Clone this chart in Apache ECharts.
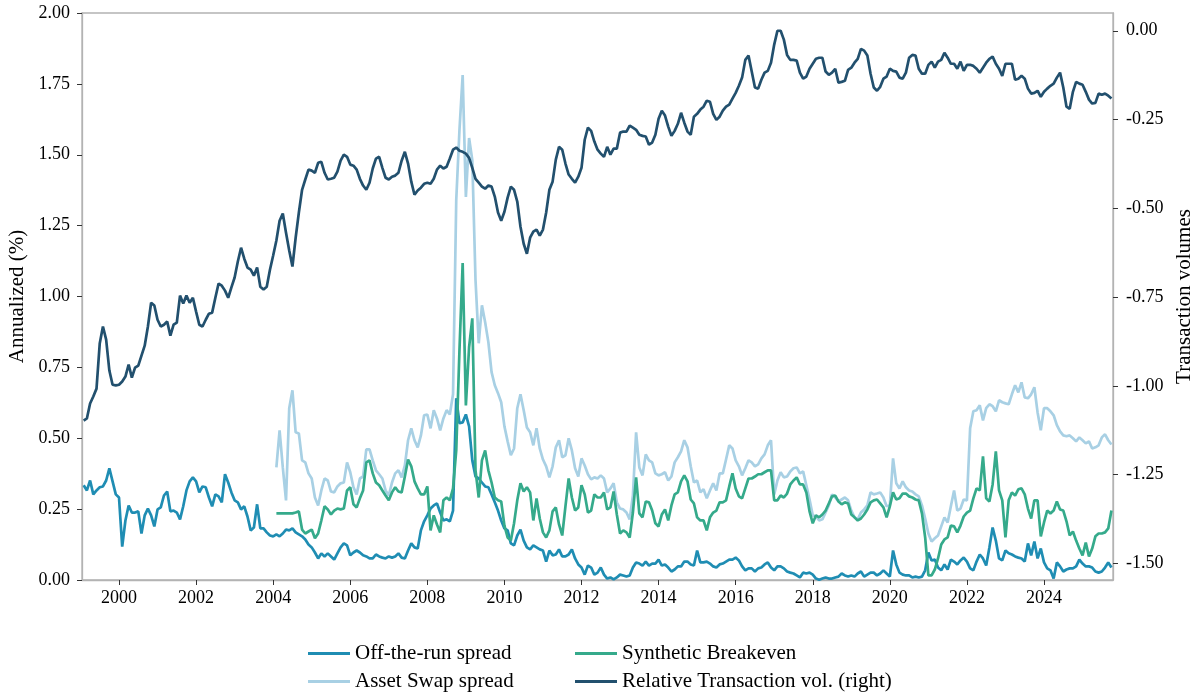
<!DOCTYPE html>
<html>
<head>
<meta charset="utf-8">
<script src="https://cdn.jsdelivr.net/npm/echarts@6/dist/echarts.min.js"></script>
<style>
  html, body { margin: 0; padding: 0; background: #fff; }
  #chart { width: 1195px; height: 695px; }
</style>
</head>
<body>
<div id="chart"></div>
<script>
// Monthly series; first value of each array belongs to the given start month.
const offStart = [1999, 2];
const assetStart = [2004, 2];
const synthStart = [2004, 2];
const volStart = [1999, 2];

const xTickYears = [2000, 2002, 2004, 2006, 2008, 2010, 2012, 2014, 2016, 2018, 2020, 2022, 2024];
const leftTicks = [0, 0.25, 0.5, 0.75, 1.0, 1.25, 1.5, 1.75, 2.0];
const rightTicks = [-1.5, -1.25, -1.0, -0.75, -0.5, -0.25, 0.0];

const offTheRun = [
  0.334,0.316,0.351,0.302,0.316,0.327,0.330,0.351,0.394,0.348,0.302,0.291,
  0.118,0.210,0.263,0.238,0.238,0.242,0.164,0.228,0.252,0.228,0.189,0.249,
  0.256,0.298,0.312,0.242,0.245,0.238,0.214,0.260,0.316,0.348,0.362,0.348,
  0.309,0.330,0.327,0.291,0.260,0.302,0.295,0.274,0.373,0.344,0.309,0.281,
  0.274,0.249,0.260,0.224,0.175,0.185,0.267,0.182,0.182,0.168,0.157,0.154,
  0.161,0.154,0.164,0.178,0.175,0.182,0.168,0.161,0.154,0.143,0.125,0.115,
  0.097,0.076,0.094,0.083,0.094,0.083,0.072,0.094,0.115,0.129,0.122,0.087,
  0.097,0.104,0.097,0.087,0.083,0.076,0.076,0.090,0.083,0.079,0.076,0.083,
  0.079,0.083,0.094,0.079,0.076,0.104,0.129,0.115,0.111,0.175,0.207,0.228,
  0.252,0.263,0.270,0.238,0.210,0.214,0.207,0.245,0.641,0.553,0.556,0.584,
  0.542,0.422,0.365,0.358,0.344,0.330,0.327,0.302,0.274,0.245,0.210,0.182,
  0.175,0.129,0.122,0.157,0.178,0.139,0.115,0.108,0.122,0.115,0.108,0.104,
  0.065,0.104,0.087,0.090,0.108,0.083,0.083,0.090,0.108,0.076,0.055,0.044,
  0.019,0.051,0.044,0.019,0.026,0.044,0.019,0.005,0.009,0.002,0.009,0.019,
  0.016,0.012,0.016,0.044,0.062,0.058,0.051,0.065,0.051,0.058,0.058,0.072,
  0.051,0.055,0.044,0.030,0.037,0.048,0.048,0.065,0.065,0.055,0.051,0.104,
  0.062,0.062,0.065,0.058,0.048,0.044,0.055,0.058,0.065,0.072,0.072,0.079,
  0.069,0.048,0.034,0.041,0.041,0.030,0.041,0.044,0.055,0.062,0.044,0.034,
  0.048,0.048,0.041,0.030,0.026,0.023,0.016,0.009,0.026,0.023,0.026,0.019,
  0.005,0.001,0.005,0.009,0.005,0.005,0.009,0.012,0.023,0.016,0.012,0.016,
  0.012,0.023,0.030,0.012,0.019,0.026,0.026,0.016,0.023,0.034,0.023,0.012,
  0.104,0.055,0.026,0.019,0.016,0.016,0.009,0.012,0.009,0.012,0.034,0.097,
  0.069,0.072,0.044,0.034,0.055,0.037,0.072,0.065,0.055,0.069,0.079,0.065,
  0.041,0.034,0.065,0.090,0.076,0.051,0.115,0.185,0.139,0.076,0.069,0.104,
  0.094,0.090,0.083,0.079,0.076,0.065,0.129,0.087,0.136,0.076,0.111,0.062,
  0.041,0.034,0.005,0.062,0.048,0.030,0.037,0.041,0.041,0.048,0.072,0.058,
  0.048,0.048,0.044,0.030,0.026,0.030,0.044,0.062,0.044
];

const assetSwap = [
  0.397,0.528,0.397,0.281,0.606,0.669,0.521,0.517,0.422,0.415,0.376,0.358,
  0.291,0.263,0.316,0.358,0.351,0.312,0.309,0.330,0.341,0.344,0.415,0.380,
  0.327,0.302,0.358,0.365,0.461,0.461,0.422,0.387,0.373,0.358,0.316,0.298,
  0.344,0.376,0.387,0.362,0.404,0.493,0.535,0.493,0.468,0.510,0.581,0.584,
  0.535,0.599,0.570,0.528,0.570,0.599,0.584,0.655,1.340,1.587,1.781,1.351,
  1.559,1.481,1.058,0.835,0.969,0.909,0.839,0.733,0.687,0.659,0.627,0.542,
  0.489,0.440,0.464,0.606,0.655,0.599,0.538,0.521,0.475,0.535,0.464,0.425,
  0.401,0.362,0.401,0.468,0.493,0.433,0.440,0.500,0.457,0.394,0.365,0.429,
  0.404,0.373,0.355,0.362,0.358,0.369,0.358,0.309,0.323,0.341,0.274,0.252,
  0.249,0.238,0.214,0.298,0.521,0.397,0.369,0.443,0.422,0.415,0.376,0.369,
  0.373,0.380,0.351,0.365,0.415,0.433,0.454,0.493,0.468,0.401,0.344,0.351,
  0.309,0.320,0.288,0.316,0.341,0.316,0.376,0.376,0.425,0.475,0.464,0.422,
  0.401,0.369,0.394,0.422,0.415,0.401,0.408,0.429,0.443,0.475,0.493,0.302,
  0.351,0.380,0.362,0.365,0.383,0.394,0.397,0.376,0.383,0.334,0.284,0.228,
  0.224,0.210,0.214,0.238,0.263,0.302,0.291,0.277,0.284,0.291,0.281,0.245,
  0.221,0.214,0.238,0.249,0.263,0.309,0.302,0.305,0.309,0.291,0.260,0.263,
  0.429,0.341,0.323,0.348,0.327,0.316,0.312,0.302,0.295,0.263,0.217,0.164,
  0.136,0.147,0.157,0.189,0.221,0.203,0.260,0.316,0.245,0.252,0.284,0.281,
  0.535,0.595,0.599,0.616,0.563,0.606,0.620,0.613,0.595,0.634,0.627,0.623,
  0.620,0.655,0.687,0.662,0.697,0.644,0.641,0.655,0.680,0.591,0.528,0.606,
  0.606,0.595,0.581,0.546,0.524,0.510,0.507,0.510,0.500,0.489,0.503,0.493,
  0.482,0.489,0.464,0.468,0.475,0.503,0.514,0.493,0.478
];

const syntheticBE = [
  0.235,0.235,0.235,0.235,0.235,0.235,0.238,0.242,0.178,0.164,0.171,0.178,
  0.147,0.164,0.210,0.260,0.249,0.231,0.245,0.252,0.249,0.252,0.316,0.327,
  0.267,0.256,0.288,0.316,0.415,0.422,0.376,0.344,0.334,0.316,0.298,0.281,
  0.309,0.327,0.312,0.309,0.365,0.425,0.401,0.348,0.323,0.302,0.302,0.330,
  0.175,0.228,0.196,0.168,0.281,0.291,0.281,0.323,0.457,0.810,1.118,0.616,
  0.821,0.923,0.387,0.291,0.422,0.457,0.387,0.344,0.291,0.281,0.277,0.192,
  0.150,0.139,0.200,0.281,0.341,0.312,0.327,0.309,0.210,0.288,0.217,0.168,
  0.150,0.175,0.242,0.256,0.196,0.157,0.260,0.358,0.291,0.245,0.256,0.334,
  0.302,0.238,0.245,0.302,0.291,0.291,0.309,0.249,0.256,0.312,0.231,0.164,
  0.175,0.168,0.150,0.238,0.362,0.235,0.221,0.277,0.274,0.245,0.200,0.189,
  0.231,0.249,0.210,0.263,0.302,0.309,0.348,0.369,0.348,0.284,0.270,0.221,
  0.210,0.210,0.175,0.221,0.238,0.245,0.274,0.274,0.281,0.330,0.376,0.323,
  0.295,0.288,0.323,0.358,0.358,0.365,0.373,0.373,0.380,0.387,0.387,0.281,
  0.281,0.298,0.291,0.305,0.337,0.351,0.362,0.337,0.337,0.309,0.242,0.200,
  0.228,0.221,0.231,0.245,0.270,0.295,0.298,0.277,0.267,0.274,0.270,0.231,
  0.221,0.210,0.217,0.231,0.249,0.274,0.281,0.284,0.270,0.256,0.221,0.260,
  0.309,0.284,0.288,0.305,0.305,0.295,0.291,0.284,0.281,0.235,0.150,0.016,
  0.016,0.037,0.076,0.125,0.143,0.150,0.192,0.189,0.168,0.192,0.224,0.238,
  0.245,0.288,0.323,0.316,0.436,0.288,0.277,0.337,0.454,0.316,0.281,0.150,
  0.281,0.309,0.298,0.320,0.323,0.302,0.252,0.217,0.281,0.281,0.154,0.203,
  0.245,0.235,0.245,0.277,0.249,0.245,0.207,0.157,0.171,0.139,0.111,0.087,
  0.132,0.083,0.111,0.154,0.164,0.164,0.168,0.182,0.245
];

const relTransVol = [
  -1.098,-1.092,-1.050,-1.030,-1.008,-0.881,-0.833,-0.870,-0.957,-0.997,-0.999,-0.997,
  -0.988,-0.974,-0.940,-0.977,-0.949,-0.943,-0.915,-0.887,-0.833,-0.766,-0.774,-0.814,
  -0.833,-0.828,-0.819,-0.859,-0.828,-0.822,-0.746,-0.768,-0.746,-0.766,-0.752,-0.791,
  -0.828,-0.833,-0.814,-0.797,-0.794,-0.752,-0.712,-0.718,-0.732,-0.752,-0.723,-0.695,
  -0.650,-0.611,-0.642,-0.667,-0.673,-0.690,-0.667,-0.721,-0.729,-0.721,-0.673,-0.633,
  -0.591,-0.535,-0.515,-0.569,-0.619,-0.664,-0.583,-0.512,-0.448,-0.419,-0.391,-0.394,
  -0.400,-0.372,-0.369,-0.400,-0.419,-0.417,-0.414,-0.397,-0.366,-0.349,-0.355,-0.377,
  -0.380,-0.391,-0.417,-0.436,-0.448,-0.428,-0.388,-0.360,-0.355,-0.386,-0.414,-0.419,
  -0.411,-0.408,-0.400,-0.366,-0.341,-0.374,-0.425,-0.462,-0.450,-0.442,-0.431,-0.428,
  -0.431,-0.417,-0.391,-0.380,-0.388,-0.383,-0.360,-0.335,-0.329,-0.338,-0.341,-0.346,
  -0.358,-0.386,-0.417,-0.428,-0.439,-0.445,-0.436,-0.439,-0.467,-0.512,-0.535,-0.510,
  -0.470,-0.439,-0.448,-0.481,-0.552,-0.600,-0.628,-0.583,-0.566,-0.560,-0.577,-0.560,
  -0.512,-0.448,-0.425,-0.363,-0.327,-0.335,-0.374,-0.405,-0.417,-0.428,-0.411,-0.386,
  -0.307,-0.273,-0.282,-0.312,-0.335,-0.346,-0.355,-0.327,-0.349,-0.332,-0.332,-0.287,
  -0.284,-0.284,-0.267,-0.273,-0.279,-0.293,-0.296,-0.298,-0.321,-0.315,-0.293,-0.248,
  -0.225,-0.239,-0.270,-0.296,-0.282,-0.262,-0.231,-0.259,-0.284,-0.293,-0.242,-0.234,
  -0.222,-0.214,-0.197,-0.200,-0.234,-0.251,-0.242,-0.225,-0.214,-0.208,-0.191,-0.175,
  -0.155,-0.132,-0.082,-0.070,-0.115,-0.160,-0.163,-0.138,-0.118,-0.113,-0.090,-0.039,
  0.000,0.000,-0.025,-0.068,-0.082,-0.082,-0.084,-0.118,-0.135,-0.129,-0.107,-0.093,
  -0.079,-0.076,-0.076,-0.115,-0.124,-0.118,-0.107,-0.146,-0.144,-0.141,-0.110,-0.104,
  -0.090,-0.079,-0.051,-0.056,-0.070,-0.121,-0.160,-0.169,-0.158,-0.135,-0.129,-0.107,
  -0.113,-0.115,-0.132,-0.135,-0.118,-0.076,-0.068,-0.070,-0.107,-0.121,-0.121,-0.096,
  -0.087,-0.104,-0.087,-0.082,-0.062,-0.076,-0.093,-0.093,-0.107,-0.087,-0.113,-0.096,
  -0.096,-0.099,-0.107,-0.118,-0.104,-0.090,-0.079,-0.073,-0.093,-0.107,-0.127,-0.093,
  -0.093,-0.093,-0.138,-0.135,-0.127,-0.135,-0.163,-0.177,-0.175,-0.169,-0.186,-0.172,
  -0.163,-0.155,-0.149,-0.132,-0.118,-0.160,-0.214,-0.220,-0.172,-0.144,-0.149,-0.152,
  -0.172,-0.194,-0.205,-0.203,-0.177,-0.180,-0.177,-0.183,-0.191
];

function toPairs(start, values) {
  const base = start[0] + (start[1] - 1) / 12;
  return values.map((v, i) => [base + i / 12, v]);
}

const FONT = 'Liberation Serif';
const C_OFF = '#1f8db3';
const C_ASW = '#a8d0e4';
const C_SYN = '#35aa8b';
const C_VOL = '#22506e';
const SPINE = '#b3b3b3';
const LW = 2.7;

const chart = echarts.init(document.getElementById('chart'), null, { renderer: 'canvas' });

const legendText = { fontFamily: FONT, fontSize: 21, color: '#000', lineHeight: 21 };
const legendCommon = {
  orient: 'vertical', top: 643, padding: 0, height: 60,
  icon: 'rect', itemWidth: 42, itemHeight: 3, itemGap: 7, textStyle: legendText
};

chart.setOption({
  animation: false,
  backgroundColor: '#fff',
  grid: { left: 82, right: 82, top: 13, bottom: 115, show: true, borderColor: SPINE, borderWidth: 1.3,
          containLabel: false, outerBoundsMode: 'none' },
  legend: [
    Object.assign({ data: ['Off-the-run spread', 'Asset Swap spread'], left: 308 }, legendCommon),
    Object.assign({ data: ['Synthetic Breakeven', 'Relative Transaction vol. (right)'], left: 575 }, legendCommon)
  ],
  xAxis: {
    type: 'value', min: 1999.04, max: 2025.79,
    axisLine: { show: true, lineStyle: { color: SPINE, width: 1.3 } },
    axisTick: { show: true, length: 5, customValues: xTickYears, lineStyle: { color: '#333' } },
    axisLabel: { customValues: xTickYears, formatter: v => String(Math.round(v)), fontFamily: FONT, fontSize: 18, color: '#000', margin: 9 },
    splitLine: { show: false }
  },
  yAxis: [
    {
      type: 'value', min: 0, max: 2, position: 'left',
      name: 'Annualized (%)', nameLocation: 'middle', nameRotate: 90, nameGap: 54,
      nameTextStyle: { fontFamily: FONT, fontSize: 21, color: '#000' },
      axisLine: { show: true, lineStyle: { color: SPINE, width: 1.3 } },
      axisTick: { show: true, length: 5, customValues: leftTicks, lineStyle: { color: '#333' } },
      axisLabel: { customValues: leftTicks, formatter: v => v.toFixed(2), fontFamily: FONT, fontSize: 18, color: '#000', margin: 12 },
      splitLine: { show: false }
    },
    {
      type: 'value', min: -1.547, max: 0.050, position: 'right',
      name: 'Transaction volumes', nameLocation: 'middle', nameRotate: 90, nameGap: 60,
      nameTextStyle: { fontFamily: FONT, fontSize: 21, color: '#000' },
      axisLine: { show: true, lineStyle: { color: SPINE, width: 1.3 } },
      axisTick: { show: true, length: 5, customValues: rightTicks, lineStyle: { color: '#333' } },
      axisLabel: { customValues: rightTicks, formatter: v => v.toFixed(2), fontFamily: FONT, fontSize: 18, color: '#000', margin: 13 },
      splitLine: { show: false }
    }
  ],
  series: [
    { name: 'Off-the-run spread', type: 'line', yAxisIndex: 0, data: toPairs(offStart, offTheRun),
      symbol: 'none', lineStyle: { color: C_OFF, width: LW }, itemStyle: { color: C_OFF }, z: 2 },
    { name: 'Asset Swap spread', type: 'line', yAxisIndex: 0, data: toPairs(assetStart, assetSwap),
      symbol: 'none', lineStyle: { color: C_ASW, width: LW }, itemStyle: { color: C_ASW }, z: 3 },
    { name: 'Synthetic Breakeven', type: 'line', yAxisIndex: 0, data: toPairs(synthStart, syntheticBE),
      symbol: 'none', lineStyle: { color: C_SYN, width: LW }, itemStyle: { color: C_SYN }, z: 4 },
    { name: 'Relative Transaction vol. (right)', type: 'line', yAxisIndex: 1, data: toPairs(volStart, relTransVol),
      symbol: 'none', lineStyle: { color: C_VOL, width: LW }, itemStyle: { color: C_VOL }, z: 5 }
  ]
});
</script>
</body>
</html>
